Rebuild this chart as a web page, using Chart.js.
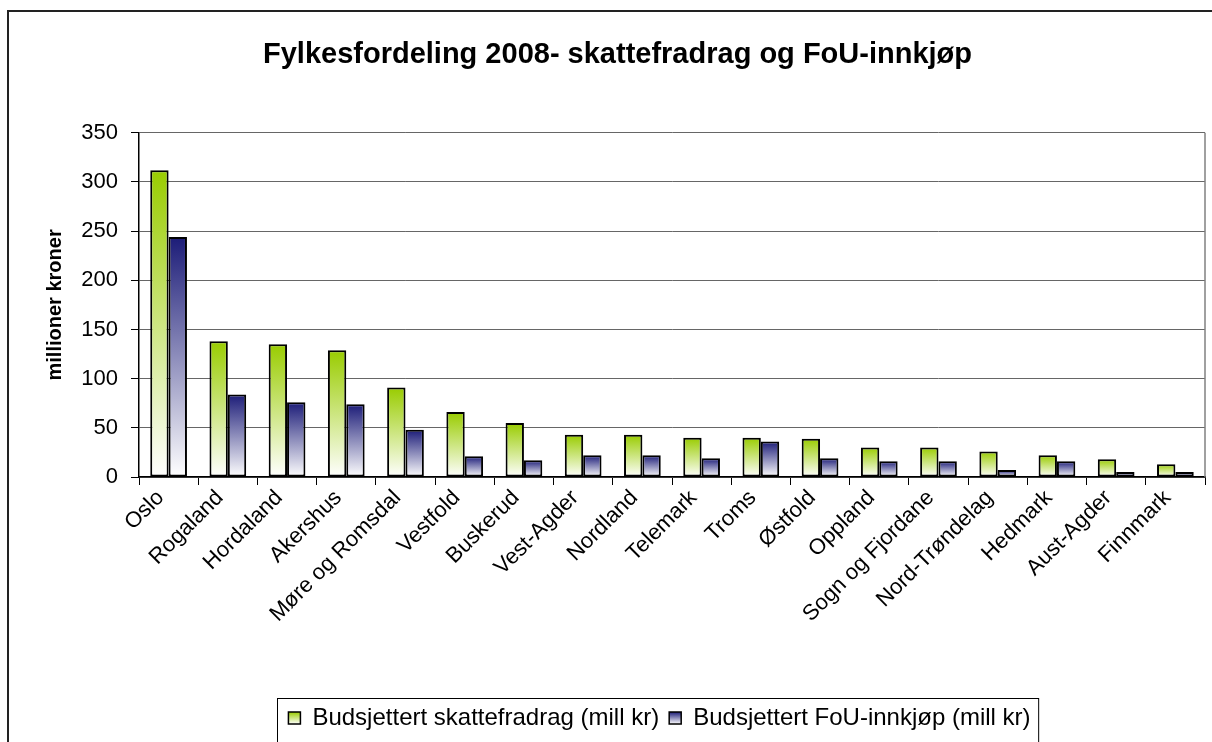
<!DOCTYPE html>
<html><head><meta charset="utf-8">
<script src="https://cdn.jsdelivr.net/npm/chart.js@4.4.1/dist/chart.umd.min.js"></script>
<style>html,body{margin:0;padding:0;background:#fff}#wrap{width:1212px;height:742px;position:relative}</style>
</head><body><div id="wrap"><canvas id="c" width="1212" height="742"></canvas></div>
<script>
const categories = ["Oslo","Rogaland","Hordaland","Akershus","Møre og Romsdal","Vestfold","Buskerud","Vest-Agder","Nordland","Telemark","Troms","Østfold","Oppland","Sogn og Fjordane","Nord-Trøndelag","Hedmark","Aust-Agder","Finnmark"];
const skattefradrag = [312,138,135,129,91,66,55,43,43,40,40,39,30,30,26,22,18,13];
const fouInnkjop = [244,84,76,74,48,21,17,22,22,19,36,19,16,16,7,16,5,5];
const yTicks = [0,50,100,150,200,250,300,350];
const seriesNames = ["Budsjettert skattefradrag (mill kr)","Budsjettert FoU-innkjøp (mill kr)"];
const titleText = "Fylkesfordeling 2008- skattefradrag og FoU-innkjøp";
const yTitle = "millioner kroner";

const FONT = "'Liberation Sans', Arial, sans-serif";
const seriesColors = ["#99cc00", "#1c1c78"];
const LEGEND_SHIFT = 42;

function grad(topColor){
  return (ctx) => {
    const chart = ctx.chart;
    if (ctx.type !== 'data' || !chart.scales || !chart.scales.y) return topColor;
    const y = chart.scales.y;
    const y0 = y.getPixelForValue(ctx.parsed.y);
    const y1 = y.getPixelForValue(0);
    if (!isFinite(y0) || !isFinite(y1) || Math.abs(y1 - y0) < 1) return topColor;
    const g = chart.ctx.createLinearGradient(0, y0, 0, y1);
    g.addColorStop(0, topColor);
    g.addColorStop(1, '#ffffff');
    return g;
  };
}

const decor = {
  id: 'decor',
  afterLayout(chart){
    chart.legend.left += LEGEND_SHIFT;
    chart.legend.right += LEGEND_SHIFT;
  },
  beforeDraw(chart){
    const c = chart.ctx;
    c.save();
    c.fillStyle = '#fff';
    c.fillRect(0,0,chart.width,chart.height);
    c.strokeStyle = '#222';
    c.lineWidth = 2;
    c.beginPath();
    c.moveTo(8, chart.height + 5);
    c.lineTo(8, 11);
    c.lineTo(chart.width + 5, 11);
    c.stroke();
    c.restore();
  },
  beforeDatasetsDraw(chart){
    const a = chart.chartArea, c = chart.ctx;
    c.save();
    c.strokeStyle = '#808080';
    c.lineWidth = 1.5;
    c.beginPath();
    c.moveTo(a.right, a.top);
    c.lineTo(a.right, a.bottom);
    c.stroke();
    c.restore();
  },
  afterDraw(chart){
    const hb = chart.legend.legendHitBoxes;
    if (!hb || !hb.length) return;
    const c = chart.ctx;
    const last = hb[hb.length-1];
    const l = hb[0].left - 11, r = last.left + last.width + 8;
    const t = hb[0].top - 8;
    c.save();
    c.strokeStyle = '#000';
    c.lineWidth = 1;
    c.strokeRect(Math.round(l)+0.5, Math.round(t)+0.5, r - l, chart.height + 10 - t);
    c.restore();
  }
};

new Chart(document.getElementById('c'), {
  type: 'bar',
  data: {
    labels: categories,
    datasets: [
      { label: seriesNames[0], data: skattefradrag, backgroundColor: grad(seriesColors[0]), borderColor: '#000', borderWidth: 2, borderSkipped: false },
      { label: seriesNames[1], data: fouInnkjop, backgroundColor: grad(seriesColors[1]), borderColor: '#000', borderWidth: 2, borderSkipped: false }
    ]
  },
  options: {
    responsive: false,
    animation: false,
    devicePixelRatio: 1,
    categoryPercentage: 0.62,
    barPercentage: 1.0,
    layout: { padding: { left: 30, right: 7, top: 0, bottom: 2 } },
    plugins: {
      title: { display: true, text: titleText, color: '#000', font: { family: FONT, size: 29, weight: 'bold' }, padding: { top: 38, bottom: 60 } },
      legend: {
        position: 'bottom',
        labels: {
          color: '#000', font: { family: FONT, size: 24 }, boxWidth: 12, boxHeight: 12, padding: 10,
          generateLabels(chart){
            const items = Chart.defaults.plugins.legend.labels.generateLabels(chart);
            const lg = chart.legend;
            const top = (lg && lg.top ? lg.top : 0) + 10 + 6;
            items.forEach((it, i) => {
              const g = chart.ctx.createLinearGradient(0, top, 0, top + 12);
              g.addColorStop(0, seriesColors[i]);
              g.addColorStop(1, '#ffffff');
              it.fillStyle = g; it.strokeStyle = '#000'; it.lineWidth = 1.5;
            });
            return items;
          }
        }
      },
      tooltip: { enabled: false }
    },
    scales: {
      x: {
        ticks: { color: '#000', font: { family: FONT, size: 22 }, maxRotation: 45, minRotation: 45, autoSkip: false, padding: 0, labelOffset: -8 },
        grid: { display: true, drawOnChartArea: false, drawTicks: true, tickLength: 8, color: '#000', offset: true },
        border: { color: '#000', width: 1.5 },
        afterFit(s){ s.height = 219; }
      },
      y: {
        min: 0, max: 350,
        afterBuildTicks(s){ s.ticks = yTicks.map(v => ({ value: v })); },
        ticks: { color: '#000', font: { family: FONT, size: 22 }, padding: 13 },
        grid: { color: '#666', lineWidth: 1, tickLength: 8, tickColor: '#000' },
        border: { color: '#000', width: 1.5 },
        title: { display: true, text: yTitle, color: '#000', font: { family: FONT, size: 20, weight: 'bold' }, padding: { top: 13, bottom: 0 } },
        afterFit(s){ s.width = 109; }
      }
    }
  },
  plugins: [decor]
});
</script></body></html>
